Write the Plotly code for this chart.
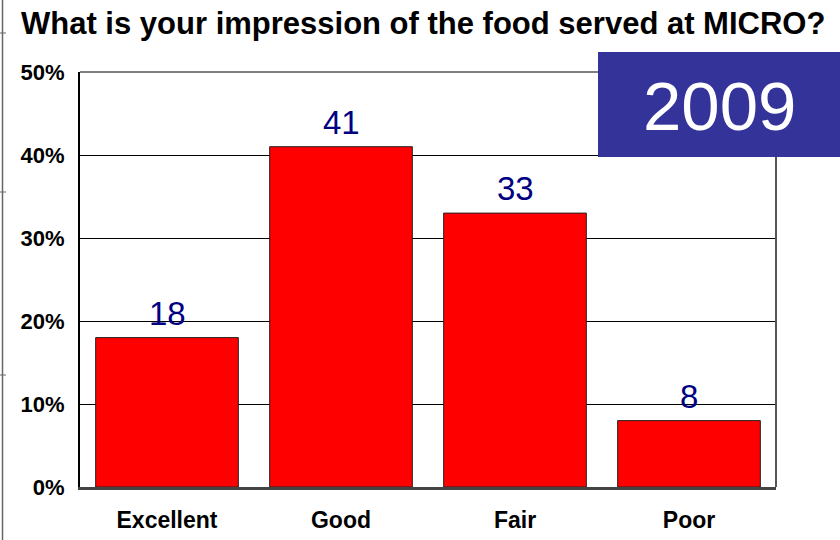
import plotly.graph_objects as go

categories = ["Excellent", "Good", "Fair", "Poor"]
values = [18, 41, 33, 8]
y_ticks = [0, 10, 20, 30, 40, 50]
y_tick_labels = ["0%", "10%", "20%", "30%", "40%", "50%"]
title_text = "What is your impression of the food served at MICRO?"
year_text = "2009"

W, H = 840, 540
L, R, T, B = 80, 64, 72, 53
PW, PH = W - L - R, H - T - B

def px_x(x):
    return (x - L) / PW

def px_y(y):
    return (H - B - y) / PH

FONT = "Liberation Sans, Arial, sans-serif"

fig = go.Figure()
fig.add_trace(go.Bar(
    x=categories, y=values,
    marker=dict(color="#FF0000", line=dict(color="#222222", width=1)),
    width=0.82,
    hoverinfo="skip",
))

annotations = []
for c, v in zip(categories, values):
    annotations.append(dict(
        x=c, y=v, xref="x", yref="y", text=str(v), showarrow=False,
        yanchor="bottom", yshift=4,
        font=dict(family=FONT, size=33, color="#000080"),
    ))

annotations.append(dict(
    x=px_x(720), y=px_y(106), xref="paper", yref="paper", text=year_text,
    showarrow=False, xanchor="center", yanchor="middle",
    font=dict(family=FONT, size=69, color="#FFFFFF"),
))

shapes = [
    # top border
    dict(type="line", xref="paper", yref="paper", x0=0, x1=1, y0=1, y1=1,
         line=dict(color="#000000", width=1), layer="above"),
    # right border
    dict(type="line", xref="paper", yref="paper", x0=1, x1=1, y0=0, y1=1,
         line=dict(color="#555555", width=2), layer="above"),
    # year box
    dict(type="rect", xref="paper", yref="paper",
         x0=px_x(598), x1=px_x(841), y0=px_y(157), y1=px_y(52),
         fillcolor="#333399", line=dict(width=0), layer="above"),
    # left page edge line
    dict(type="line", xref="paper", yref="paper",
         x0=px_x(2.5), x1=px_x(2.5), y0=px_y(541), y1=px_y(-1),
         line=dict(color="#666666", width=1.5), layer="above"),
]
for yy in [33, 192, 375]:
    shapes.append(dict(type="line", xref="paper", yref="paper",
                       x0=px_x(0), x1=px_x(6), y0=px_y(yy), y1=px_y(yy),
                       line=dict(color="#666666", width=1), layer="above"))

fig.update_layout(
    width=W, height=H,
    margin=dict(l=L, r=R, t=T, b=B, pad=0, autoexpand=False),
    paper_bgcolor="#FFFFFF", plot_bgcolor="#FFFFFF",
    showlegend=False,
    bargap=0.18,
    title=dict(
        text=title_text, xref="container", yref="container",
        x=21 / W, xanchor="left", y=1 - 23 / H, yanchor="middle",
        pad=dict(l=0, r=0, t=0, b=0),
        font=dict(family=FONT, size=31, color="#000000", weight="bold"),
    ),
    xaxis=dict(
        showgrid=False, showline=True, linecolor="#444444", linewidth=3,
        ticks="", ticklabelstandoff=10,
        tickfont=dict(family=FONT, size=23, color="#000000", weight="bold"),
        fixedrange=True, automargin=False,
    ),
    yaxis=dict(
        range=[0, 50], tickvals=y_ticks, ticktext=y_tick_labels,
        showgrid=True, gridcolor="#000000", gridwidth=1,
        showline=True, linecolor="#000000", linewidth=2,
        ticks="", ticklabelstandoff=9, zeroline=False,
        tickfont=dict(family=FONT, size=22, color="#000000", weight="bold"),
        fixedrange=True, automargin=False,
    ),
    annotations=annotations,
    shapes=shapes,
)

fig.write_html(
    "out.html",
    config={"displayModeBar": False},
    post_script="document.body.style.margin='0';document.body.style.overflow='hidden';",
)
